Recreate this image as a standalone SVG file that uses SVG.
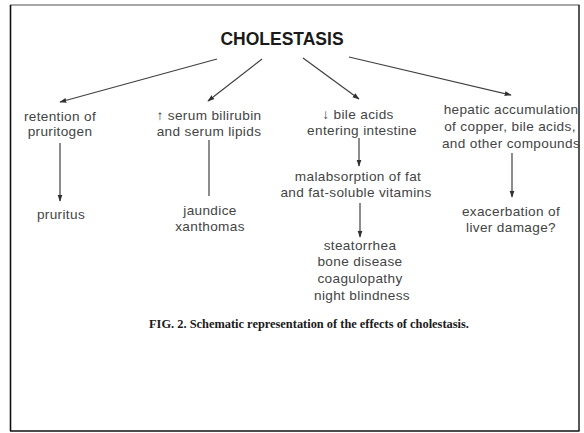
<svg xmlns="http://www.w3.org/2000/svg" width="584" height="433" viewBox="0 0 584 433">
<style>
.t{font-family:"Liberation Sans",Arial,sans-serif;font-size:13.6px;fill:#444;text-anchor:middle;letter-spacing:0.35px}
.h{font-family:"Liberation Sans",Arial,sans-serif;font-size:17.5px;font-weight:bold;fill:#1a1a1a;text-anchor:middle}
.cap{font-family:"Liberation Serif","Times New Roman",serif;font-size:12.4px;font-weight:bold;fill:#1a1a1a;text-anchor:middle}
.c{stroke:#404040;stroke-width:1.2;fill:none}
</style>
<defs>
<marker id="ah" viewBox="0 0 10 10" refX="9" refY="5" markerWidth="7" markerHeight="7" markerUnits="userSpaceOnUse" orient="auto">
<path d="M0,1.5 L10,5 L0,8.5 z" fill="#303030"/>
</marker>
</defs>
<rect width="584" height="433" fill="#fff"/>
<g id="frame">
<line x1="10" y1="5" x2="579.5" y2="5" stroke="#8a8a8a" stroke-width="1.6"/>
<line x1="10.5" y1="5" x2="10.5" y2="431" stroke="#111" stroke-width="1.6"/>
<line x1="579" y1="5" x2="579" y2="431" stroke="#111" stroke-width="1.4"/>
<line x1="10" y1="431" x2="579.5" y2="431" stroke="#111" stroke-width="1.6"/>
</g>
<g id="connectors">
<line class="c" x1="217" y1="59" x2="60" y2="102" marker-end="url(#ah)"/>
<line class="c" x1="262" y1="59" x2="208" y2="101" marker-end="url(#ah)"/>
<line class="c" x1="303" y1="58" x2="359" y2="99" marker-end="url(#ah)"/>
<line class="c" x1="349" y1="57" x2="511" y2="95" marker-end="url(#ah)"/>
<line class="c" x1="60" y1="143" x2="60" y2="201" marker-end="url(#ah)"/>
<line class="c" x1="209" y1="140" x2="209" y2="196"/>
<line class="c" x1="359" y1="138" x2="359" y2="166" marker-end="url(#ah)"/>
<line class="c" x1="360" y1="203" x2="360" y2="237" marker-end="url(#ah)"/>
<line class="c" x1="512" y1="153" x2="512" y2="197" marker-end="url(#ah)"/>
</g>
<g id="cholestasis"><text class="h" x="282" y="45">CHOLESTASIS</text></g>
<g id="retention"><text class="t" x="60" y="121">retention of</text><text class="t" x="60" y="136">pruritogen</text></g>
<g id="pruritus"><text class="t" x="61" y="219">pruritus</text></g>
<g id="serum"><text class="t" x="209" y="120">↑ serum bilirubin</text><text class="t" x="209" y="136">and serum lipids</text></g>
<g id="jaundice"><text class="t" x="210" y="215">jaundice</text><text class="t" x="210" y="231">xanthomas</text></g>
<g id="bileacids"><text class="t" x="358" y="119">↓ bile acids</text><text class="t" x="362" y="135">entering intestine</text></g>
<g id="malabsorption"><text class="t" x="358" y="181">malabsorption of fat</text><text class="t" x="356" y="197">and fat-soluble vitamins</text></g>
<g id="steatorrhea"><text class="t" x="360" y="250">steatorrhea</text><text class="t" x="360" y="266">bone disease</text><text class="t" x="360" y="283">coagulopathy</text><text class="t" x="362" y="300">night blindness</text></g>
<g id="hepatic"><text class="t" x="511" y="114">hepatic accumulation</text><text class="t" x="510" y="131">of copper, bile acids,</text><text class="t" x="511" y="148">and other compounds</text></g>
<g id="exacerbation"><text class="t" x="511" y="216">exacerbation of</text><text class="t" x="511" y="232">liver damage?</text></g>
<g id="caption"><text class="cap" x="309" y="328">FIG. 2. Schematic representation of the effects of cholestasis.</text></g>
</svg>
